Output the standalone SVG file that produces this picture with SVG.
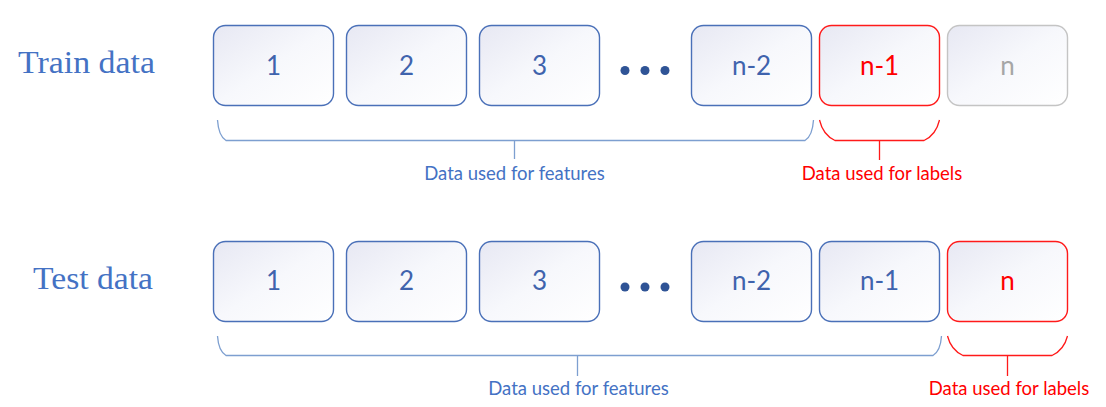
<svg xmlns="http://www.w3.org/2000/svg" width="1106" height="407" viewBox="0 0 1106 407">
<defs>
<linearGradient id="g" x1="0" y1="0" x2="1" y2="1">
<stop offset="0" stop-color="#e7e8f3"/>
<stop offset="0.5" stop-color="#f7f8fc"/>
<stop offset="1" stop-color="#ffffff"/>
</linearGradient>
</defs>
<style>
.box{fill:url(#g);stroke:#4a70b8;stroke-width:1.4}
.red .box{stroke:#ff1a1a}
.grey .box{stroke:#c4c4c4}
.num{font-family:Lato,"Open Sans","Noto Sans",sans-serif;font-size:26px;fill:#3f63ad;text-anchor:middle}
.red .num{fill:#ff0000}
.grey .num{fill:#a6a6a6}
.title{font-family:"Liberation Serif","DejaVu Serif",serif;font-size:31px;fill:#4472c4}
.brace{fill:none;stroke:#7d9fd0;stroke-width:1.3}
.rbrace{fill:none;stroke:#ff1a1a;stroke-width:1.3}
.lab{font-family:Lato,"Open Sans","Noto Sans",sans-serif;font-size:18.5px;fill:#4472c4;text-anchor:middle}
.rlab{font-family:Lato,"Open Sans","Noto Sans",sans-serif;font-size:18.5px;fill:#ff0000;text-anchor:middle}
.dot{fill:#2f5496}
</style>
<text class="title" x="18" y="73" textLength="137" lengthAdjust="spacingAndGlyphs">Train data</text>
<text class="title" x="33" y="289" textLength="120" lengthAdjust="spacingAndGlyphs">Test data</text>

<g id="train-1"><rect class="box" x="213.5" y="25.5" width="120" height="80" rx="12"/><text class="num" x="273.5" y="75">1</text></g>
<g id="train-2"><rect class="box" x="346.5" y="25.5" width="120" height="80" rx="12"/><text class="num" x="406.5" y="75">2</text></g>
<g id="train-3"><rect class="box" x="479.5" y="25.5" width="120" height="80" rx="12"/><text class="num" x="539.5" y="75">3</text></g>
<g id="train-dots"><circle class="dot" cx="625" cy="70.5" r="4.5"/><circle class="dot" cx="645" cy="70.5" r="4.5"/><circle class="dot" cx="665" cy="70.5" r="4.5"/></g>
<g id="train-n2"><rect class="box" x="691.5" y="25.5" width="120" height="80" rx="12"/><text class="num" x="751.5" y="75">n-2</text></g>
<g id="train-n1" class="red"><rect class="box" x="819.5" y="25.5" width="120" height="80" rx="12"/><text class="num" x="879.5" y="75">n-1</text></g>
<g id="train-n" class="grey"><rect class="box" x="947.5" y="25.5" width="120" height="80" rx="12"/><text class="num" x="1007.5" y="75">n</text></g>

<g id="test-1"><rect class="box" x="213.5" y="241.5" width="120" height="80" rx="12"/><text class="num" x="273.5" y="290">1</text></g>
<g id="test-2"><rect class="box" x="346.5" y="241.5" width="120" height="80" rx="12"/><text class="num" x="406.5" y="290">2</text></g>
<g id="test-3"><rect class="box" x="479.5" y="241.5" width="120" height="80" rx="12"/><text class="num" x="539.5" y="290">3</text></g>
<g id="test-dots"><circle class="dot" cx="625" cy="287" r="4.5"/><circle class="dot" cx="645" cy="287" r="4.5"/><circle class="dot" cx="665" cy="287" r="4.5"/></g>
<g id="test-n2"><rect class="box" x="691.5" y="241.5" width="120" height="80" rx="12"/><text class="num" x="751.5" y="290">n-2</text></g>
<g id="test-n1"><rect class="box" x="819.5" y="241.5" width="120" height="80" rx="12"/><text class="num" x="879.5" y="290">n-1</text></g>
<g id="test-n" class="red"><rect class="box" x="947.5" y="241.5" width="120" height="80" rx="12"/><text class="num" x="1007.5" y="290">n</text></g>

<g id="connectors">
<path class="brace" d="M217.5,120 Q218.5,136 226,140.5 L805,140.5 Q812.5,136 813.5,120 M514.5,140.5 V159"/>
<path class="rbrace" d="M819.5,120 Q823,135 835,140.5 L924,140.5 Q936,135 939.5,120 M879.5,140.5 V160"/>
<path class="brace" d="M217.5,336 Q218.5,351 226,355.5 L933,355.5 Q940.5,351 941.5,336 M577.5,355.5 V376"/>
<path class="rbrace" d="M947.5,336 Q951,350 963,355.5 L1052,355.5 Q1064,350 1067.5,336 M1007.5,355.5 V376"/>
</g>
<text class="lab" x="514.5" y="180">Data used for features</text>
<text class="rlab" x="882" y="180">Data used for labels</text>
<text class="lab" x="578.5" y="395">Data used for features</text>
<text class="rlab" x="1009" y="395">Data used for labels</text>
</svg>
